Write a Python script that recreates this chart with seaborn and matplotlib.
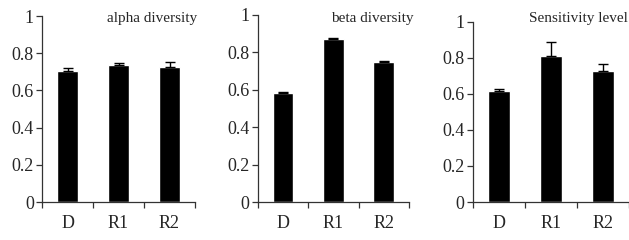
import numpy as np
import pandas as pd
import matplotlib
matplotlib.use('Agg')
import matplotlib.pyplot as plt
import seaborn as sns
from matplotlib.ticker import FixedLocator, FuncFormatter

sns.set_style('white')
plt.rcParams['font.family'] = ['Liberation Serif', 'DejaVu Serif']

# data
groups = ['D', 'R1', 'R2']
alpha_mean = [0.706, 0.737, 0.726]
alpha_err = [0.016, 0.012, 0.027]
beta_mean = [0.580, 0.872, 0.746]
beta_err = [0.007, 0.005, 0.005]
sens_mean = [0.614, 0.811, 0.725]
sens_err = [0.011, 0.074, 0.040]
titles = ['alpha diversity', 'beta diversity', 'Sensitivity level']

panels = [(alpha_mean, alpha_err), (beta_mean, beta_err), (sens_mean, sens_err)]
# axes boxes in figure fraction [left, bottom, width, height]
boxes = [[0.067, 0.158, 0.243, 0.775],
         [0.410, 0.158, 0.240, 0.781],
         [0.752, 0.158, 0.248, 0.752]]
# right edge of each panel label, figure fraction
label_x = [0.314, 0.657, 0.998]

fig = plt.figure(figsize=(6.29, 2.4), dpi=100)

for i, (means, errs) in enumerate(panels):
    ax = fig.add_axes(boxes[i])
    df = pd.DataFrame({'group': groups, 'value': means})
    sns.barplot(data=df, x='group', y='value', color='black', width=0.41,
                saturation=1, ax=ax, errorbar=None)
    ax.errorbar(range(len(groups)), means, yerr=[[0] * 3, errs], fmt='none',
                ecolor='black', elinewidth=1, capsize=3.5, capthick=1)
    ax.set_xlim(-0.5, 2.5)
    ax.set_ylim(0, 1)
    ax.set_xlabel('')
    ax.set_ylabel('')
    ax.spines['top'].set_visible(False)
    ax.spines['right'].set_visible(False)
    for s in ['left', 'bottom']:
        ax.spines[s].set_color('#333333')
        ax.spines[s].set_linewidth(0.9)
    ax.set_yticks(np.arange(0, 1.01, 0.2))
    ax.yaxis.set_major_formatter(FuncFormatter(lambda v, p: f'{v:.1f}'.rstrip('0').rstrip('.') if v else '0'))
    ax.tick_params(axis='y', direction='out', length=4, width=0.9, color='#333333',
                   left=True, labelsize=13, pad=2)
    ax.tick_params(axis='x', which='major', length=0, labelsize=13, pad=9)
    ax.xaxis.set_minor_locator(FixedLocator([-0.5, 0.5, 1.5, 2.5]))
    ax.tick_params(axis='x', which='minor', direction='out', length=4, width=0.9,
                   color='#333333', bottom=True)
    fig.text(label_x[i], 0.948, titles[i], ha='right', va='top', fontsize=11)

fig.savefig('out.png', dpi=100)
